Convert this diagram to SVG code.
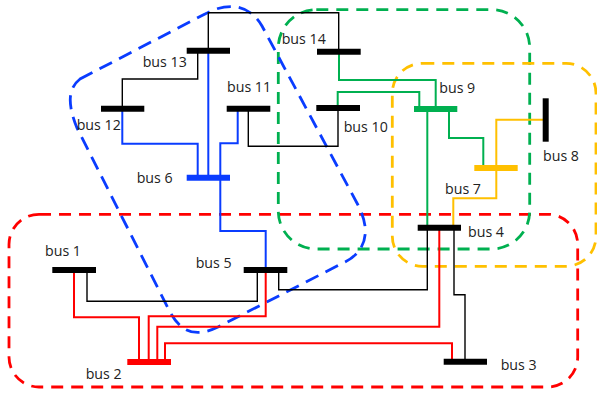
<svg xmlns="http://www.w3.org/2000/svg" width="597" height="394" viewBox="0 0 597 394">
<style>
text{font-family:"Open Sans","Noto Sans","Liberation Sans",sans-serif;font-size:14.2px;fill:#222}
.w{fill:none;stroke-width:2;stroke-linejoin:miter}
.t{fill:none;stroke-width:1.4;stroke-linejoin:miter}
.r{fill:none;stroke-width:2.8;stroke-dasharray:12 8}
.k{stroke:#000}.R{stroke:#ff0000}.B{stroke:#0a3cff}.G{stroke:#00b050}.Y{stroke:#ffc000}
.bar{stroke-width:6}
</style>
<rect width="597" height="394" fill="#fff"/>
<g id="regions">
<rect class="r R" x="9" y="214.3" width="568.7" height="172.7" rx="30" ry="30"/>
<rect class="r G" x="278.3" y="9.7" width="251.4" height="239.3" rx="38" ry="38"/>
<rect class="r Y" x="392.3" y="63.3" width="203.7" height="203" rx="30" ry="30"/>
<path class="r B" style="stroke-dasharray:14 8" d="M80 79L205 14C225 3 248 2 262 26L358 205C372 232 365 252 345 262L218 327C195 338 181 332 170 312L77 128C69 108 66 90 80 79Z"/>
</g>
<g id="connectors">
<path class="t k" d="M208.3 50V12.7H338.7V51"/>
<path class="t k" d="M197.7 50V79H122.3V108"/>
<path class="t k" d="M248.3 108V146.3H338V108"/>
<path class="t k" d="M87 270V301.3H257.3V270"/>
<path class="t k" d="M278.7 270V289.7H427.3V228"/>
<path class="t k" d="M454 228V294.7H465V362"/>
<path class="w G" d="M339 52V80H435.7V109"/>
<path class="w G" d="M337.7 108V92H419.3V109"/>
<path class="w G" d="M427.3 109V228"/>
<path class="w G" d="M449 109V138H483.3V168"/>
<path class="w Y" d="M545 119.7H496.3V198.3H453.3V228"/>
<path class="w B" d="M122.3 108V143.7H197.7V177"/>
<path class="w B" d="M208.3 50V177"/>
<path class="w B" d="M237.7 108V143.3H220.3V231H265.7V270"/>
<path class="w R" d="M74 270V317.3H139V362"/>
<path class="w R" d="M265.7 270V316.3H148.7V362"/>
<path class="w R" d="M439.3 228V326.7H157.3V362"/>
<path class="w R" d="M452 362V343.3H165V362"/>
</g>
<g id="bus1"><path class="bar k" d="M52.3 270H96"/><text x="45" y="255.7">bus 1</text></g>
<g id="bus2"><path class="bar R" d="M127.3 362H171"/><text x="85.7" y="379">bus 2</text></g>
<g id="bus3"><path class="bar k" d="M443.7 361.7H487"/><text x="500.7" y="370">bus 3</text></g>
<g id="bus4"><path class="bar k" d="M417.7 227.7H461"/><text x="468" y="236.7">bus 4</text></g>
<g id="bus5"><path class="bar k" d="M243.7 270H287.3"/><text x="195.7" y="268">bus 5</text></g>
<g id="bus6"><path class="bar B" d="M186.7 177.7H230"/><text x="136.7" y="183">bus 6</text></g>
<g id="bus7"><path class="bar Y" d="M474.3 168H517.7"/><text x="445" y="194">bus 7</text></g>
<g id="bus8"><path class="bar k" d="M545.7 98.3V141.7"/><text x="543" y="161">bus 8</text></g>
<g id="bus9"><path class="bar G" d="M414 109H457.3"/><text x="439.3" y="93">bus 9</text></g>
<g id="bus10"><path class="bar k" d="M316.3 108H360"/><text x="343.7" y="132">bus 10</text></g>
<g id="bus11"><path class="bar k" d="M226.7 108.7H270.3"/><text x="227" y="92">bus 11</text></g>
<g id="bus12"><path class="bar k" d="M101 108.7H144.3"/><text x="76.7" y="130">bus 12</text></g>
<g id="bus13"><path class="bar k" d="M186.7 50.7H230"/><text x="142.7" y="67">bus 13</text></g>
<g id="bus14"><path class="bar k" d="M317 51.7H360.7"/><text x="281.7" y="44">bus 14</text></g>
</svg>
